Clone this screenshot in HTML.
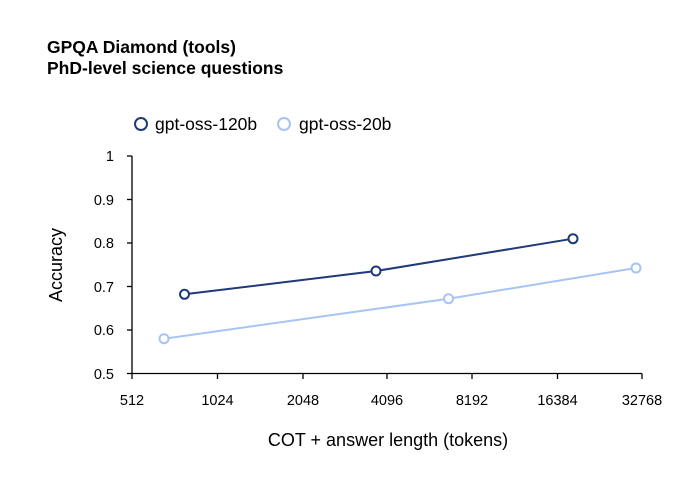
<!DOCTYPE html>
<html><head><meta charset="utf-8"><style>body{margin:0;background:#fff}svg{display:block;font-family:"Liberation Sans",Arial,sans-serif}</style></head>
<body>
<svg width="700" height="487" viewBox="0 0 700 487">
<rect width="700" height="487" fill="#fff"/>
<text x="47" y="53" font-size="17.5" font-weight="bold" fill="#000">GPQA Diamond (tools)</text>
<text x="47" y="74" font-size="17.5" font-weight="bold" fill="#000">PhD-level science questions</text>
<circle cx="141" cy="124" r="6" fill="#fff" stroke="#1f3a7a" stroke-width="2"/>
<text x="155" y="130" font-size="17.5" fill="#000">gpt-oss-120b</text>
<circle cx="284" cy="124" r="6" fill="#fff" stroke="#a8c4f5" stroke-width="2"/>
<text x="299" y="130" font-size="17.5" fill="#000">gpt-oss-20b</text>
<g stroke="#000" stroke-width="1.3" fill="none">
<line x1="132" y1="156" x2="132" y2="373.5"/>
<line x1="132" y1="373.5" x2="642" y2="373.5"/>
<line x1="127" y1="156" x2="132" y2="156"/><line x1="127" y1="199.5" x2="132" y2="199.5"/><line x1="127" y1="243" x2="132" y2="243"/><line x1="127" y1="286.5" x2="132" y2="286.5"/><line x1="127" y1="330" x2="132" y2="330"/><line x1="127" y1="373.5" x2="132" y2="373.5"/>
<line x1="132" y1="373.5" x2="132" y2="379"/><line x1="217.5" y1="373.5" x2="217.5" y2="379"/><line x1="303" y1="373.5" x2="303" y2="379"/><line x1="387" y1="373.5" x2="387" y2="379"/><line x1="472" y1="373.5" x2="472" y2="379"/><line x1="557.5" y1="373.5" x2="557.5" y2="379"/><line x1="642" y1="373.5" x2="642" y2="379"/>
</g>
<g font-size="14.5" fill="#000" text-anchor="end">
<text x="114" y="161">1</text><text x="114" y="205">0.9</text><text x="114" y="248">0.8</text><text x="114" y="292">0.7</text><text x="114" y="335">0.6</text><text x="114" y="379">0.5</text>
</g>
<g font-size="14.5" fill="#000" text-anchor="middle">
<text x="132" y="405">512</text><text x="217.5" y="405">1024</text><text x="303" y="405">2048</text><text x="387" y="405">4096</text><text x="472" y="405">8192</text><text x="557.5" y="405">16384</text><text x="642" y="405">32768</text>
</g>
<text x="388" y="446" font-size="18" text-anchor="middle">COT + answer length (tokens)</text>
<text transform="translate(62,265) rotate(-90)" font-size="18" text-anchor="middle">Accuracy</text>
<polyline points="164,338.7 448.5,298.7 636,268" fill="none" stroke="#a8c4f5" stroke-width="2"/>
<polyline points="184.5,294.3 376,271 573,238.7" fill="none" stroke="#1f3a7a" stroke-width="2"/>
<g fill="#fff" stroke="#a8c4f5" stroke-width="2"><circle cx="164" cy="338.7" r="4.5"/><circle cx="448.5" cy="298.7" r="4.5"/><circle cx="636" cy="268" r="4.5"/></g>
<g fill="#fff" stroke="#1f3a7a" stroke-width="2"><circle cx="184.5" cy="294.3" r="4.5"/><circle cx="376" cy="271" r="4.5"/><circle cx="573" cy="238.7" r="4.5"/></g>
</svg>
</body></html>
